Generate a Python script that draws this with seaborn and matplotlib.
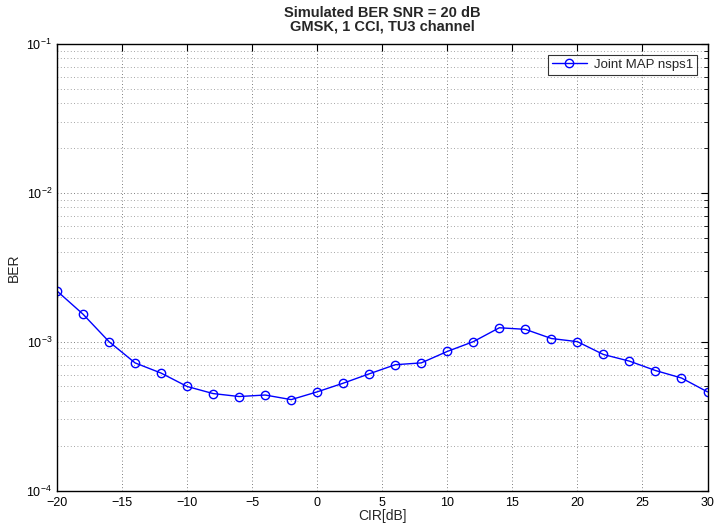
import matplotlib
matplotlib.use("Agg")
import matplotlib.pyplot as plt
import seaborn as sns
import pandas as pd
import numpy as np
from matplotlib.ticker import LogLocator, NullFormatter, FixedLocator

cir = [-20, -18, -16, -14, -12, -10, -8, -6, -4, -2, 0, 2, 4, 6, 8, 10,
       12, 14, 16, 18, 20, 22, 24, 26, 28, 30]
ber = [2.19e-3, 1.53e-3, 1.0e-3, 7.2e-4, 6.15e-4, 5.0e-4, 4.48e-4, 4.28e-4,
       4.38e-4, 4.08e-4, 4.6e-4, 5.26e-4, 6.08e-4, 7.0e-4, 7.2e-4, 8.6e-4,
       1.0e-3, 1.24e-3, 1.21e-3, 1.05e-3, 1.0e-3, 8.2e-4, 7.4e-4, 6.4e-4,
       5.7e-4, 4.6e-4]
series_name = "Joint MAP nsps1"
xticks = [-20, -15, -10, -5, 0, 5, 10, 15, 20, 25, 30]

sns.set_style("white")
plt.rcParams['font.family'] = ['Liberation Sans', 'DejaVu Sans']
plt.rcParams['mathtext.fontset'] = 'custom'
plt.rcParams['mathtext.rm'] = 'Liberation Sans'
plt.rcParams['mathtext.it'] = 'Liberation Sans'

df = pd.DataFrame({"CIR": cir, "BER": ber})

fig = plt.figure(figsize=(7.14, 5.28), dpi=100)
ax = fig.add_axes([57/714, 37.5/528, 650.5/714, 446.5/528])

sns.lineplot(data=df, x="CIR", y="BER", ax=ax, color="#0000ff", lw=1.0,
             marker="o", markersize=6, markerfacecolor="none",
             markeredgecolor="#0000ff", markeredgewidth=1.0, label=series_name)

ax.set_yscale("log")
ax.set_xlim(-20, 30)
ax.set_ylim(1e-4, 1e-1)
ax.xaxis.set_major_locator(FixedLocator(xticks))
ax.set_xticklabels([("\u2212" + str(-t)) if t < 0 else str(t) for t in xticks])
ax.yaxis.set_major_locator(LogLocator(base=10, numticks=10))
ax.yaxis.set_minor_locator(LogLocator(base=10, subs=np.arange(2, 10), numticks=20))
ax.yaxis.set_minor_formatter(NullFormatter())

ax.grid(True, which="major", axis="both", linestyle=(0, (1, 3)), color="#555555", lw=0.6)
ax.grid(True, which="minor", axis="y", linestyle=(0, (1, 3)), color="#888888", lw=0.6)

for s in ax.spines.values():
    s.set_color("black")
    s.set_linewidth(1.0)

ax.tick_params(axis="both", which="both", direction="in", top=True, right=True,
               labelsize=9, colors="black")
ax.tick_params(axis="both", which="major", length=5, width=0.8)
ax.tick_params(axis="x", which="major", pad=5)
ax.tick_params(axis="y", which="minor", length=3, width=0.6)

ax.set_xlabel("CIR[dB]", fontsize=10, labelpad=0)
ax.set_ylabel("BER", fontsize=10, labelpad=4)
ax.set_title("Simulated BER SNR = 20 dB\nGMSK, 1 CCI, TU3 channel",
             fontsize=10.5, fontweight="bold", linespacing=0.95, pad=10)

leg = ax.legend(loc="upper right", fontsize=9.5, frameon=True, fancybox=False,
                edgecolor="black", borderaxespad=0.8, handlelength=2.7,
                borderpad=0.3, handletextpad=0.5)
leg.get_frame().set_linewidth(0.8)

fig.savefig("out.png", dpi=100, facecolor="white")
